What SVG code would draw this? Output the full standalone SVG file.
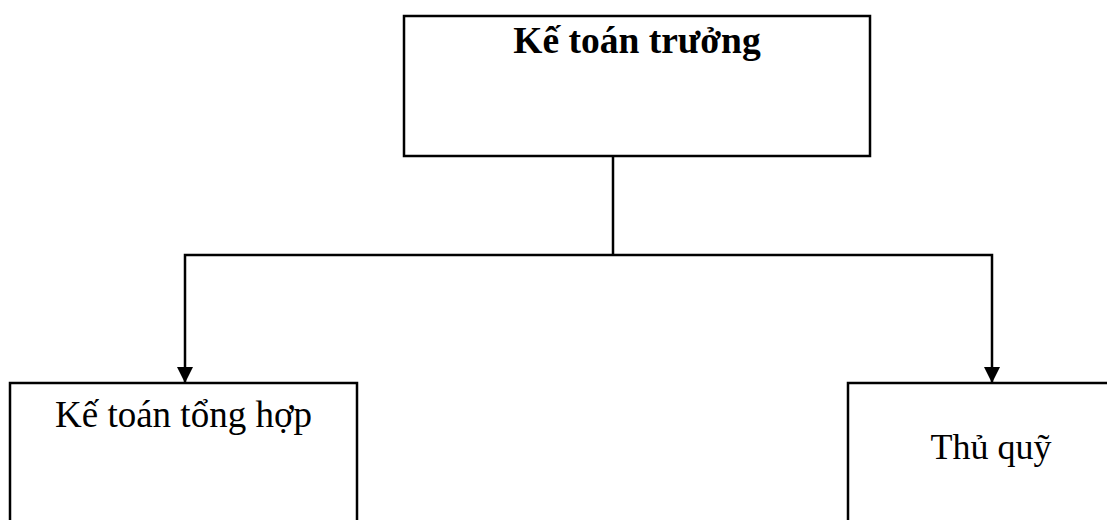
<svg xmlns="http://www.w3.org/2000/svg" width="1107" height="520" viewBox="0 0 1107 520">
<style>
.box{fill:#fff;stroke:#000;stroke-width:2.5}
.t{font-family:"Liberation Serif","Times New Roman",serif;font-size:36px;fill:#000;text-anchor:middle}
.b{font-weight:bold;font-size:37.5px}
.l{font-size:37px}
.c{fill:none;stroke:#000;stroke-width:2.5}
</style>
<defs>
<marker id="ah" viewBox="0 0 16 16" refX="16" refY="8" markerWidth="16" markerHeight="16" markerUnits="userSpaceOnUse" orient="auto">
<path d="M0,0 L16,8 L0,16 Z" fill="#000"/>
</marker>
</defs>
<rect width="1107" height="520" fill="#fff"/>
<g id="connectors">
<path class="c" d="M613,156 V255"/>
<path class="c" d="M613,255 H185 V383" marker-end="url(#ah)"/>
<path class="c" d="M613,255 H992 V383" marker-end="url(#ah)"/>
</g>
<g id="ke-toan-truong">
<rect class="box" x="404" y="16" width="466" height="140"/>
<text class="t b" x="637" y="53">Kế toán trưởng</text>
</g>
<g id="ke-toan-tong-hop">
<rect class="box" x="10" y="383" width="347" height="160"/>
<text class="t l" x="183.5" y="427">Kế toán tổng hợp</text>
</g>
<g id="thu-quy">
<rect class="box" x="848" y="383" width="288" height="160"/>
<text class="t" x="991" y="459">Thủ quỹ</text>
</g>
</svg>
